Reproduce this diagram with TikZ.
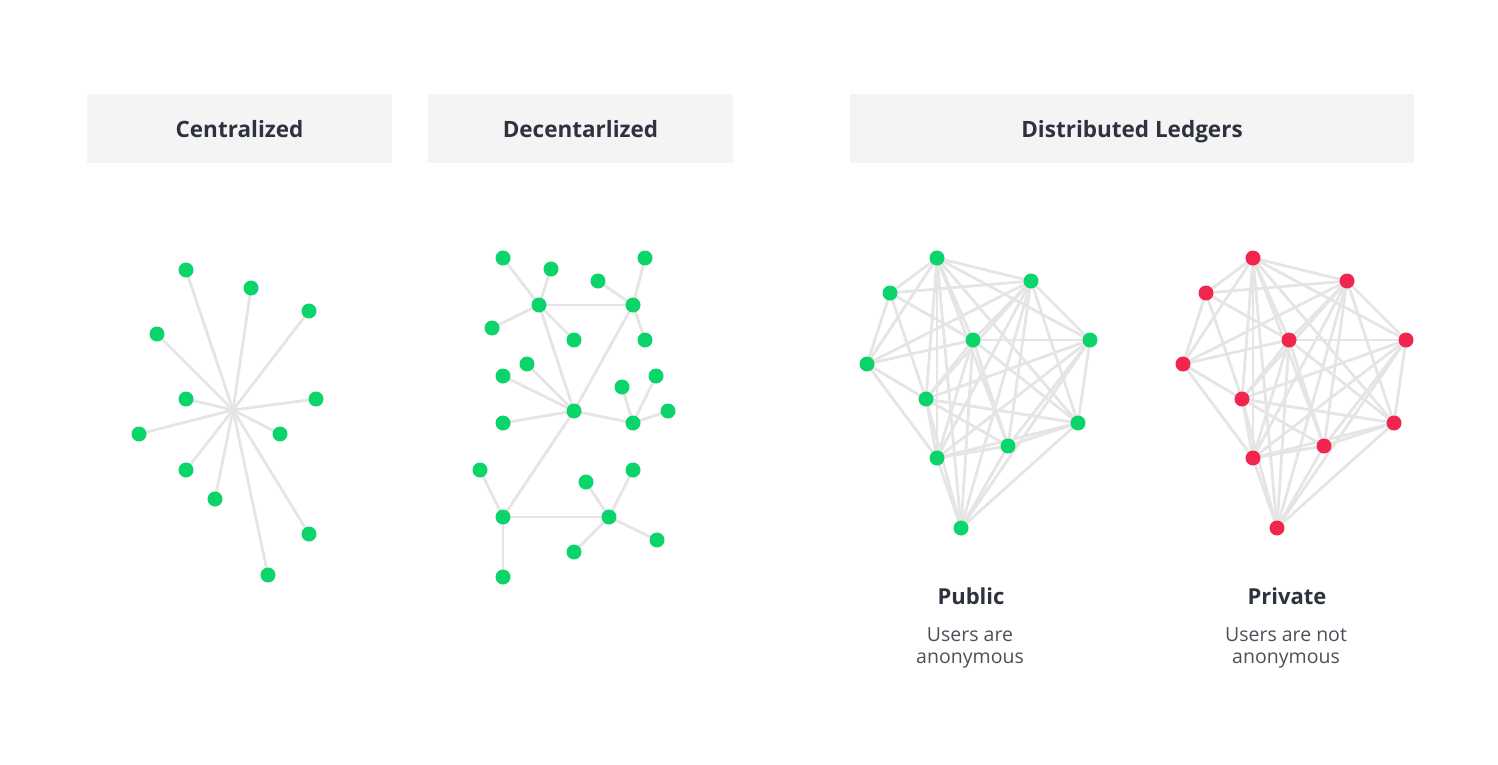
\documentclass[tikz,border=0pt]{standalone}
\usepackage{fontspec}
\setmainfont{Open Sans}
\pgfdeclarelayer{bg}
\pgfsetlayers{bg,main}
\definecolor{nodegreen}{RGB}{11,213,106}
\definecolor{nodered}{RGB}{241,38,79}
\definecolor{edgegray}{RGB}{229,229,229}
\definecolor{headfill}{RGB}{244,244,244}
\definecolor{titletext}{RGB}{45,50,62}
\definecolor{subtext}{RGB}{77,80,89}
\tikzset{
  dot/.style={circle, inner sep=0pt, minimum size=15pt, draw=none},
  gdot/.style={dot, fill=nodegreen},
  edge/.style={draw=edgegray, line width=2.8pt},
  header/.style={fill=headfill, draw=none, minimum height=69pt, inner sep=0pt,
    text height=17pt, text depth=0pt,
    text=titletext, font=\bfseries\fontsize{22.5}{26}\selectfont},
  subtitle/.style={text=titletext, font=\bfseries\fontsize{22}{26}\selectfont},
  caption/.style={text=subtext, align=center, font=\fontsize{19.5}{22.5}\selectfont}
}
\begin{document}
\begin{tikzpicture}[x=1pt,y=-1pt]
\useasboundingbox (0,0) rectangle (1498,764);

% headers
\node[header, minimum width=305pt] (hc) at (239.5,128.5) {Centralized};
\node[header, minimum width=305pt] (hd) at (580.5,128.5) {Decentarlized};
\node[header, minimum width=564pt] (hl) at (1132,128.5) {Distributed Ledgers};

% centralized star
\coordinate (c0) at (233,410);
\foreach \n/\x/\y in {1/186/270, 2/251/288, 3/309/311, 4/157/334, 5/186/399,
  6/316/399, 7/139/434, 8/280/434, 9/186/470, 10/215/499, 11/309/534, 12/268/575} {
  \node[gdot] (s\n) at (\x,\y) {};
  \begin{pgfonlayer}{bg}
    \draw[edge] (c0) -- (s\n.center);
  \end{pgfonlayer}
}

% decentralized
\foreach \n/\x/\y in {h1/539/305, h2/633/305, h3/574/411, h4/633/423, h5/503/517, h6/609/517,
  d1/503/258, d2/551/269, d3/598/281, d4/645/258, d5/492/328, d6/574/340, d7/645/340,
  d8/527/364, d9/503/376, d10/656/376, d11/622/387, d12/668/411, d13/503/423,
  d14/480/470, d15/633/470, d16/586/482, d17/657/540, d18/574/552, d19/503/577} {
  \node[gdot] (\n) at (\x,\y) {};
}
\begin{pgfonlayer}{bg}
\foreach \a/\b in {h1/d1, h1/d2, h1/d5, h1/d6, h1/h2, h1/h3,
  h2/d3, h2/d4, h2/d7, h2/h3,
  h3/d8, h3/d9, h3/d13, h3/h4, h3/h5,
  h4/d10, h4/d11, h4/d12,
  h5/d14, h5/d19, h5/h6,
  h6/d15, h6/d16, h6/d17, h6/d18}
  \draw[edge] (\a.center) -- (\b.center);
\end{pgfonlayer}

% distributed ledgers: public (p) and private (q)
\foreach \p/\dx/\col in {p/0/nodegreen, q/316/nodered} {
  \foreach \n/\x/\y in {A/937/258, B/890/293, C/1031/281, D/973/340, E/1090/340,
    F/867/364, G/926/399, H/1078/423, I/1008/446, J/937/458, K/961/528} {
    \node[dot, fill=\col] (\p\n) at (\x+\dx,\y) {};
  }
  \begin{pgfonlayer}{bg}
  \foreach \a/\b in {A/B,A/C,A/D,A/E,A/F,A/G,A/H,A/I,A/J,A/K,
    B/C,B/D,B/F,B/G,
    C/D,C/E,C/F,C/G,C/H,C/I,C/J,C/K,
    D/E,D/F,D/G,D/H,D/I,D/J,D/K,
    E/G,E/H,E/I,E/J,E/K,
    F/G,F/J,
    G/H,G/I,G/J,G/K,
    H/I,H/J,H/K,
    I/J,I/K,
    J/K}
    \draw[edge] (\p\a.center) -- (\p\b.center);
  \end{pgfonlayer}
}

% labels
\node[subtitle] (pub) at (971,596) {Public};
\node[caption] (pubc) at (970,648) {Users are\\anonymous};
\node[subtitle] (pri) at (1287,596) {Private};
\node[caption] (pric) at (1286,648) {Users are not\\anonymous};
\end{tikzpicture}
\end{document}
